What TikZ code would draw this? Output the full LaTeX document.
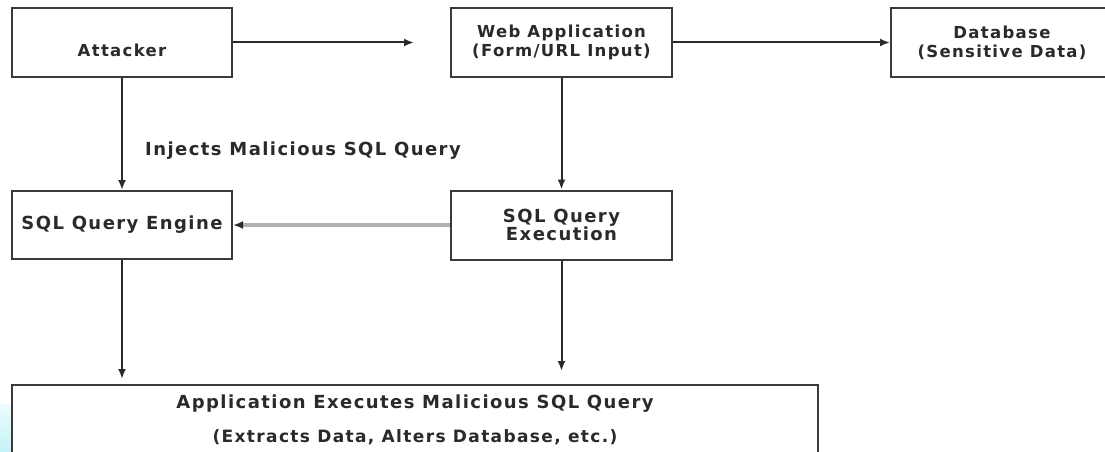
\documentclass[tikz,border=0pt]{standalone}
\usepackage{fontspec}
\setmainfont{DejaVu Sans}[LetterSpace=8]
\usetikzlibrary{arrows.meta}
\definecolor{edge}{HTML}{3A3A3A}
\definecolor{ink}{HTML}{2A2A2A}
\definecolor{grayline}{HTML}{B0B0B0}
\definecolor{blob}{HTML}{C4F3F8}
\newcommand\fsA{\fontsize{16.5}{19}\selectfont}
\newcommand\fsB{\fontsize{18}{17.6}\selectfont}
\begin{document}
\begin{tikzpicture}[x=1pt,y=-1pt,
  box/.style={draw=edge,line width=2pt,rectangle,inner sep=0pt,align=center,
    text=ink,font=\bfseries\fsA},
  txt/.style={text=ink,font=\bfseries\fsA,inner sep=0pt,align=center},
  arr/.style={draw=ink,line width=2pt,-{Latex[length=10pt,width=8pt]}},
  grayarr/.style={draw=grayline,line width=3.2pt,-{Latex[length=10pt,width=8pt,color=ink]}}]
\useasboundingbox (0,0) rectangle (1105,452);
\fill[white] (0,0) rectangle (1105,452);
\shade[top color=blob!30!white,bottom color=blob] (0,404) rectangle (11.5,452);

\node[box,minimum width=220pt,minimum height=69pt,
  label={[txt,yshift=-8pt]center:Attacker}] (attacker) at (122,42.5) {};
\node[box,minimum width=221pt,minimum height=69pt] (web) at (561.5,42.5)
  {Web Application\\(Form/URL Input)};
\node[box,minimum width=222pt,minimum height=69pt] (db) at (1002,42.5)
  {Database\\(Sensitive Data)};
\node[box,minimum width=220pt,minimum height=68pt,font=\bfseries\fsB] (engine) at (122,225)
  {SQL Query Engine};
\node[box,minimum width=221pt,minimum height=69pt,font=\bfseries\fsB] (exec) at (561.5,225)
  {SQL Query\\Execution};
\node[box,minimum width=806pt,minimum height=70pt,font=\bfseries\fsB] (bottom) at (415,420)
  {Application Executes Malicious SQL Query\\[16pt]{\fontsize{17}{17}\selectfont(Extracts Data, Alters Database, etc.)}};

\node[txt,font=\bfseries\fsB,anchor=base] (lbl) at (303,155) {Injects Malicious SQL Query};

\draw[arr,shorten >=36pt] (attacker.east) -- (web.west);
\draw[arr] (web.east) -- (db.west);
\draw[arr] (attacker) -- (engine);
\draw[arr] (web) -- (exec);
\draw[grayarr] (exec.west) -- (exec.west -| engine.east);
\draw[arr,shorten >=5pt] (engine.south) -- (engine.south |- bottom.north);
\draw[arr,shorten >=13pt] (exec.south) -- (exec.south |- bottom.north);
\end{tikzpicture}
\end{document}
